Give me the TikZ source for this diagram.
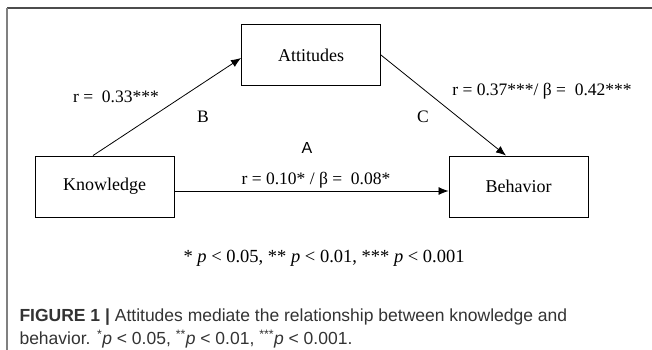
\documentclass[tikz,border=0pt]{standalone}
\usepackage{fontspec}
\setmainfont{Liberation Serif}
\newfontfamily\capfont{Liberation Sans}
\usetikzlibrary{arrows.meta}

\tikzset{
    varbox/.style={draw, line width=0.9pt, minimum width=139pt, minimum height=61pt, font=\fontsize{18}{20}\selectfont},
    path/.style={line width=0.8pt, -{Latex[length=10pt,width=8pt]}},
    coef/.style={font=\fontsize{17.5}{19}\selectfont},
    caption/.style={anchor=west, font=\capfont\fontsize{17.5}{20}\selectfont, text=black!80},
}

\begin{document}
\begin{tikzpicture}[x=1pt, y=-1pt]
    \useasboundingbox (0,0) rectangle (652,350);

    % Frame
    \draw[black!70, line width=1.6pt] (7,8) -- (652,8);
    \draw[black!50, line width=1.6pt] (7,8) -- (7,350);

    % Variables
    \node[varbox] (att) at (311,55) {Attitudes};
    \node[varbox] (know) at (104.5,186.5) {Knowledge};
    \node[varbox] (beh) at (518.5,186.5) {Behavior};

    % Paths
    \draw[path] ([xshift=-11.5pt]know.north) -- ([yshift=-3pt]att.west);
    \draw[path] (att.east) -- ([xshift=-12.5pt]beh.north);
    \draw[path] ([yshift=-4.5pt]know.east) -- ([yshift=-4.5pt]beh.west);

    % Coefficients
    \node[coef] (rB) at (116,97) {r =\ \ 0.33***};
    \node[coef] (lB) at (203,117) {B};
    \node[coef, font=\capfont\fontsize{16}{18}\selectfont] (lA) at (307,148) {A};
    \node[coef] (lC) at (423,117) {C};
    \node[coef] (rC) at (542,91) {r = 0.37***/ β =\ \ 0.42***};
    \node[coef] (rA) at (316,180) {r = 0.10* / β =\ \ 0.08*};

    % Significance note
    \node[coef, anchor=west, font=\fontsize{18.5}{20}\selectfont] (note) at (180,258)
        {* \textit{p} < 0.05, ** \textit{p} < 0.01, *** \textit{p} < 0.001};

    % Caption
    \node[caption] (cap1) at (16,317)
        {\textbf{FIGURE 1 |} Attitudes mediate the relationship between knowledge and};
    \node[caption] (cap2) at (16,339)
        {behavior. \textsuperscript{*}\textit{p} < 0.05, \textsuperscript{**}\textit{p} < 0.01, \textsuperscript{***}\textit{p} < 0.001.};
\end{tikzpicture}
\end{document}
